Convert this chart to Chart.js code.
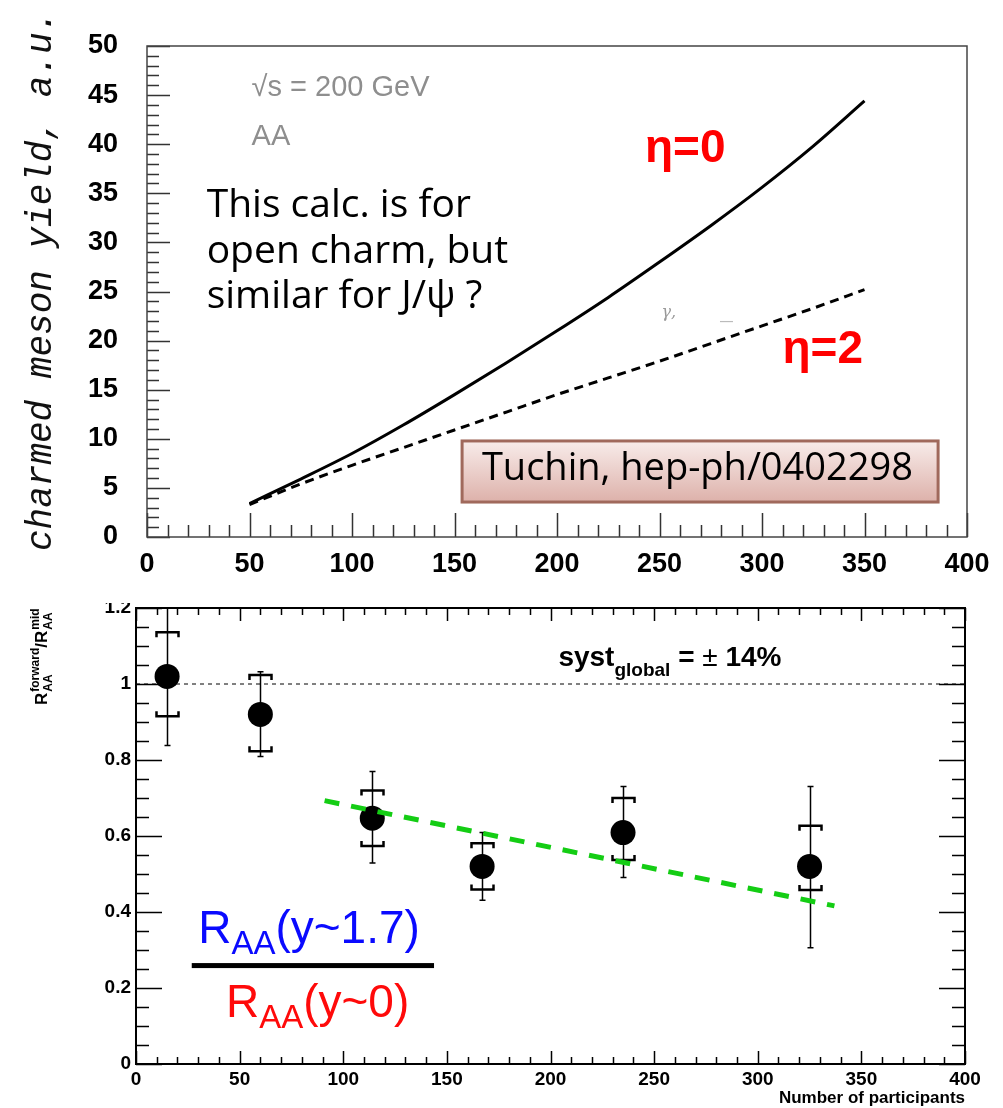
<!DOCTYPE html>
<html><head><meta charset="utf-8">
<script src="https://cdn.jsdelivr.net/npm/chart.js@4.4.1/dist/chart.umd.min.js"></script>
<style>
html,body{margin:0;padding:0;background:#fff;width:1003px;height:1108px;overflow:hidden;}
#c1{position:absolute;left:0;top:0;}
#c2{position:absolute;left:0;top:603px;}
</style></head><body>
<canvas id="c1" width="1003" height="603"></canvas>
<canvas id="c2" width="1003" height="505"></canvas>
<script>
// ---------- top chart data ----------
const yieldX = [50, 75, 100, 125, 150, 175, 200, 225, 250, 275, 300, 325, 350];
const eta0   = [3.4, 5.9, 8.5, 11.4, 14.5, 17.7, 21.0, 24.4, 28.0, 31.7, 35.6, 39.8, 44.4];
const eta2   = [3.3, 5.4, 7.3, 9.1, 10.9, 12.7, 14.5, 16.2, 17.9, 19.7, 21.5, 23.3, 25.2];
const topXTicks = [0, 50, 100, 150, 200, 250, 300, 350, 400];
const topYTicks = [0, 5, 10, 15, 20, 25, 30, 35, 40, 45, 50];

// ---------- bottom chart data ----------
const npart    = [15, 60, 114, 167, 235, 325];
const ratio    = [1.02, 0.92, 0.647, 0.52, 0.609, 0.52];
const statLow  = [0.838, 0.809, 0.529, 0.431, 0.491, 0.306];
const statHigh = [1.20, 1.032, 0.770, 0.609, 0.730, 0.730];
const systLow  = [0.915, 0.823, 0.574, 0.459, 0.537, 0.458];
const systHigh = [1.136, 1.024, 0.720, 0.581, 0.700, 0.627];
const fitX = [91, 337];
const fitY = [0.693, 0.416];
const refX = [0, 400];
const refY = [1, 1];
const botXTicks = [0, 50, 100, 150, 200, 250, 300, 350, 400];
const botYTicks = [0, 0.2, 0.4, 0.6, 0.8, 1.0, 1.2];

const SANS = '"Liberation Sans", Arial, sans-serif';
const HAND = '"Open Sans", "DejaVu Sans", sans-serif';

function setTicks(arr){ return s => { s.ticks = arr.map(v => ({value: v})); }; }

function richText(ctx, x, y, parts){
  let cx = x;
  for (const p of parts){
    ctx.font = p.font; ctx.fillStyle = p.color;
    ctx.fillText(p.t, cx, y + (p.dy || 0));
    cx += ctx.measureText(p.t).width;
  }
}

// ---------- top chart decorations ----------
const topDeco = {
  id: 'topDeco',
  afterDraw(chart){
    const {ctx, chartArea: a, scales: {x, y}} = chart;
    const P = (vx, vy) => [x.getPixelForValue(vx), y.getPixelForValue(vy)];
    ctx.save();
    ctx.strokeStyle = '#333'; ctx.lineWidth = 1.5;
    ctx.beginPath();
    for (let v = 0; v <= 400; v += 10){
      const p = Math.round(x.getPixelForValue(v)) + 0.5;
      const L = topXTicks.includes(v) ? 24 : 12;
      ctx.moveTo(p, a.bottom); ctx.lineTo(p, a.bottom - L);
    }
    for (let v = 0; v <= 50; v += 1){
      const p = Math.round(y.getPixelForValue(v)) + 0.5;
      const L = topYTicks.includes(v) ? 23 : 12;
      ctx.moveTo(a.left, p); ctx.lineTo(a.left + L, p);
    }
    ctx.stroke();
    ctx.strokeStyle = '#444'; ctx.lineWidth = 1.5;
    ctx.strokeRect(a.left, a.top, a.right - a.left, a.bottom - a.top);

    ctx.textBaseline = 'alphabetic'; ctx.textAlign = 'left';
    ctx.fillStyle = '#8e8e8e'; ctx.font = '29px ' + SANS;
    let [px, py] = P(51, 44.9); ctx.fillText('\u221As = 200 GeV', px, py);
    [px, py] = P(51, 39.9); ctx.fillText('AA', px, py);
    ctx.fillStyle = '#000'; ctx.font = '39px ' + HAND;
    [px, py] = P(29.1, 32.6); ctx.fillText('This calc. is for', px, py);
    [px, py] = P(29.1, 27.9); ctx.fillText('open charm, but', px, py);
    [px, py] = P(29.1, 23.3); ctx.fillText('similar for J/\u03C8 ?', px, py);
    ctx.fillStyle = '#ff0000'; ctx.font = 'bold 46px ' + SANS;
    [px, py] = P(242.9, 38.2); ctx.fillText('\u03B7=0', px, py);
    [px, py] = P(310, 17.7); ctx.fillText('\u03B7=2', px, py);
    ctx.fillStyle = '#999'; ctx.font = 'italic 16px "DejaVu Serif", serif';
    [px, py] = P(251, 22.4); ctx.fillText('\u03B3,', px, py);
    ctx.fillStyle = '#bbb'; ctx.fillRect(x.getPixelForValue(279.5), y.getPixelForValue(22.0), 13, 1.2);
    const [bx1, by1] = P(153.7, 9.78), [bx2, by2] = P(385.9, 3.56);
    const g = ctx.createLinearGradient(0, by1, 0, by2);
    g.addColorStop(0, '#f8ecea'); g.addColorStop(1, '#ddb1aa');
    ctx.fillStyle = g; ctx.fillRect(bx1, by1, bx2 - bx1, by2 - by1);
    ctx.strokeStyle = '#a0695c'; ctx.lineWidth = 3;
    ctx.strokeRect(bx1, by1, bx2 - bx1, by2 - by1);
    ctx.fillStyle = '#000'; ctx.font = '38px ' + HAND; ctx.textAlign = 'center';
    [px, py] = P(268.5, 5.8); ctx.fillText('Tuchin, hep-ph/0402298', px, py);
    ctx.save();
    ctx.translate(51, 551); ctx.rotate(-Math.PI / 2);
    ctx.textAlign = 'left'; ctx.fillStyle = '#111';
    ctx.font = 'italic 36px "Liberation Mono", "DejaVu Sans Mono", monospace';
    ctx.fillText('charmed meson yield, a.u.', 0, 0);
    ctx.restore();
    ctx.restore();
  }
};

new Chart(document.getElementById('c1'), {
  type: 'line',
  data: { datasets: [
    { data: yieldX.map((v, i) => ({x: v, y: eta0[i]})), borderColor: '#000', borderWidth: 3,
      pointRadius: 0, cubicInterpolationMode: 'monotone', fill: false },
    { data: yieldX.map((v, i) => ({x: v, y: eta2[i]})), borderColor: '#000', borderWidth: 3,
      borderDash: [9, 6], pointRadius: 0, cubicInterpolationMode: 'monotone', fill: false }
  ]},
  options: {
    responsive: false, animation: false, devicePixelRatio: 1,
    layout: { autoPadding: false, padding: { top: 46, right: 36, left: 0, bottom: 0 } },
    plugins: { legend: { display: false }, tooltip: { enabled: false } },
    scales: {
      x: { type: 'linear', min: 0, max: 400, afterBuildTicks: setTicks(topXTicks),
           grid: { display: false, drawTicks: false }, border: { display: false },
           ticks: { font: { family: SANS, weight: 'bold', size: 27 }, color: '#000', padding: 11,
                    maxRotation: 0, autoSkip: false },
           afterFit: s => { s.height = 66; } },
      y: { type: 'linear', min: 0, max: 50, afterBuildTicks: setTicks(topYTicks),
           grid: { display: false, drawTicks: false }, border: { display: false },
           ticks: { font: { family: SANS, weight: 'bold', size: 27 }, color: '#000', padding: 29, autoSkip: false },
           afterFit: s => { s.width = 147; } }
    }
  },
  plugins: [topDeco]
});

// ---------- bottom chart decorations ----------
const botDeco = {
  id: 'botDeco',
  beforeDatasetsDraw(chart){
    const {ctx, scales: {x, y}} = chart;
    ctx.save();
    ctx.strokeStyle = '#000';
    for (let i = 0; i < npart.length; i++){
      const cx = Math.round(x.getPixelForValue(npart[i])) + 0.5;
      const yl = y.getPixelForValue(statLow[i]), yh = y.getPixelForValue(statHigh[i]);
      ctx.lineWidth = 1.5; ctx.beginPath();
      ctx.moveTo(cx, yl); ctx.lineTo(cx, yh);
      ctx.moveTo(cx - 3, yl); ctx.lineTo(cx + 3, yl);
      ctx.moveTo(cx - 3, yh); ctx.lineTo(cx + 3, yh);
      ctx.stroke();
      const st = y.getPixelForValue(systHigh[i]), sb = y.getPixelForValue(systLow[i]);
      ctx.lineWidth = 2.5; ctx.beginPath();
      ctx.moveTo(cx - 11, st + 5); ctx.lineTo(cx - 11, st); ctx.lineTo(cx + 11, st); ctx.lineTo(cx + 11, st + 5);
      ctx.moveTo(cx - 11, sb - 5); ctx.lineTo(cx - 11, sb); ctx.lineTo(cx + 11, sb); ctx.lineTo(cx + 11, sb - 5);
      ctx.stroke();
    }
    ctx.restore();
  },
  afterDraw(chart){
    const {ctx, chartArea: a, scales: {x, y}} = chart;
    const P = (vx, vy) => [x.getPixelForValue(vx), y.getPixelForValue(vy)];
    ctx.save();
    ctx.strokeStyle = '#000'; ctx.lineWidth = 1.5;
    ctx.beginPath();
    for (let v = 0; v <= 400; v += 10){
      const p = Math.round(x.getPixelForValue(v)) + 0.5;
      const L = botXTicks.includes(v) ? 13 : 7;
      ctx.moveTo(p, a.bottom); ctx.lineTo(p, a.bottom - L);
      ctx.moveTo(p, a.top); ctx.lineTo(p, a.top + L);
    }
    for (let k = 0; k <= 24; k++){
      const v = k * 0.05;
      const p = Math.round(y.getPixelForValue(v)) + 0.5;
      const L = (k % 4 === 0) ? 26 : 13;
      ctx.moveTo(a.left, p); ctx.lineTo(a.left + L, p);
      ctx.moveTo(a.right, p); ctx.lineTo(a.right - L, p);
    }
    ctx.stroke();
    ctx.lineWidth = 2;
    ctx.strokeRect(a.left, a.top, a.right - a.left, a.bottom - a.top);

    ctx.textBaseline = 'alphabetic'; ctx.textAlign = 'left';
    let [px, py] = P(203.8, 1.048);
    richText(ctx, px, py, [
      {t: 'syst', font: 'bold 28px ' + SANS, color: '#000'},
      {t: 'global', font: 'bold 19px ' + SANS, color: '#000', dy: 10},
      {t: ' = ', font: 'bold 28px ' + SANS, color: '#000'},
      {t: '\u00B1', font: '28px ' + SANS, color: '#000'},
      {t: ' 14%', font: 'bold 28px ' + SANS, color: '#000'}
    ]);
    [px, py] = P(30.0, 0.318);
    richText(ctx, px, py, [
      {t: 'R', font: '46px ' + SANS, color: '#0a0aff'},
      {t: 'AA', font: '33px ' + SANS, color: '#0a0aff', dy: 11},
      {t: '(y~1.7)', font: '46px ' + SANS, color: '#0a0aff'}
    ]);
    const [fx1, fy] = P(26.9, 0.259), [fx2] = P(143.8, 0.259);
    ctx.fillStyle = '#000'; ctx.fillRect(fx1, fy - 2.5, fx2 - fx1, 5);
    [px, py] = P(43.4, 0.125);
    richText(ctx, px, py, [
      {t: 'R', font: '46px ' + SANS, color: '#ff0a0a'},
      {t: 'AA', font: '33px ' + SANS, color: '#ff0a0a', dy: 11},
      {t: '(y~0)', font: '46px ' + SANS, color: '#ff0a0a'}
    ]);
    ctx.fillStyle = '#000'; ctx.font = 'bold 17px ' + SANS; ctx.textAlign = 'right';
    ctx.fillText('Number of participants', a.right, a.bottom + 39);
    ctx.save();
    ctx.translate(47, 102); ctx.rotate(-Math.PI / 2);
    ctx.textAlign = 'left'; ctx.fillStyle = '#000';
    const mf = 'bold 17px ' + SANS, sf = 'bold 12px ' + SANS;
    let cx = 0;
    ctx.font = mf; ctx.fillText('R', cx, 0); cx += ctx.measureText('R').width + 1;
    ctx.font = sf; ctx.fillText('forward', cx, -8); ctx.fillText('AA', cx, 5);
    cx += ctx.measureText('forward').width;
    ctx.font = mf; ctx.fillText('/R', cx, 0); cx += ctx.measureText('/R').width + 1;
    ctx.font = sf; ctx.fillText('mid', cx, -8); ctx.fillText('AA', cx, 5);
    ctx.restore();
    ctx.restore();
  }
};

new Chart(document.getElementById('c2'), {
  type: 'scatter',
  data: { datasets: [
    { data: fitX.map((v, i) => ({x: v, y: fitY[i]})), showLine: true, borderColor: 'rgb(20,205,20)',
      borderWidth: 5, borderDash: [15, 12], pointRadius: 0, fill: false },
    { data: npart.map((v, i) => ({x: v, y: ratio[i]})), showLine: false, pointRadius: 12.5,
      pointBackgroundColor: '#000', pointBorderColor: '#000', pointBorderWidth: 0 },
    { data: refX.map((v, i) => ({x: v, y: refY[i]})), showLine: true, borderColor: '#000',
      borderWidth: 1, borderDash: [4, 4], pointRadius: 0, fill: false }
  ]},
  options: {
    responsive: false, animation: false, devicePixelRatio: 1,
    layout: { autoPadding: false, padding: { top: 5, right: 38, left: 0, bottom: 0 } },
    plugins: { legend: { display: false }, tooltip: { enabled: false } },
    scales: {
      x: { type: 'linear', min: 0, max: 400, afterBuildTicks: setTicks(botXTicks),
           grid: { display: false, drawTicks: false }, border: { display: false },
           ticks: { font: { family: SANS, weight: 'bold', size: 19 }, color: '#000', padding: 4,
                    maxRotation: 0, autoSkip: false },
           afterFit: s => { s.height = 44; } },
      y: { type: 'linear', min: 0, max: 1.2, afterBuildTicks: setTicks(botYTicks),
           grid: { display: false, drawTicks: false }, border: { display: false },
           ticks: { font: { family: SANS, weight: 'bold', size: 19, lineHeight: 0.5 }, color: '#000', padding: 5, autoSkip: false,
                    callback: v => String(parseFloat(Number(v).toFixed(1))) },
           afterFit: s => { s.width = 136; s.paddingTop = 0; s.paddingBottom = 0; } }
    }
  },
  plugins: [botDeco]
});
</script>
</body></html>
